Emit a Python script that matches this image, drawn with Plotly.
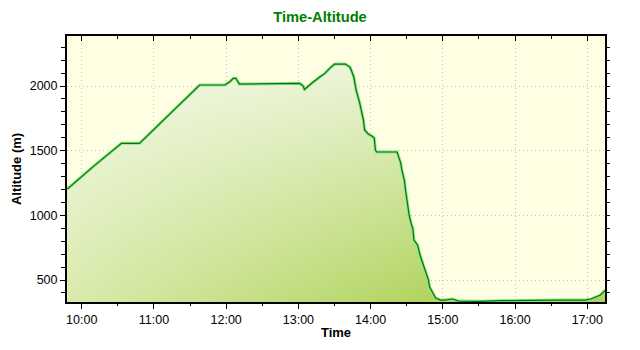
import plotly.graph_objects as go

# ---- data ----
TIME = ["09:48", "10:10", "10:33", "10:48", "11:38", "11:59", "12:03", "12:06", "12:08", "12:11",
        "13:01", "13:04", "13:05", "13:08", "13:11", "13:18", "13:22", "13:26", "13:30", "13:39",
        "13:43", "13:46", "13:48", "13:51", "13:54", "13:55", "13:58", "14:01", "14:03", "14:04",
        "14:05", "14:22", "14:23", "14:24", "14:25", "14:26", "14:28", "14:29", "14:31", "14:32",
        "14:34", "14:35", "14:36", "14:39", "14:41", "14:45", "14:48", "14:49", "14:52", "14:54",
        "14:58", "15:02", "15:08", "15:13", "15:31", "15:48", "16:37", "16:58", "17:03", "17:07",
        "17:11", "17:15"]
ALT = [1203, 1381, 1557, 1557, 2008, 2008, 2033, 2060, 2060, 2015,
       2021, 2000, 1974, 2000, 2021, 2072, 2098, 2137, 2170, 2170,
       2145, 2072, 1969, 1866, 1737, 1660, 1629, 1613, 1598, 1505,
       1490, 1490, 1466, 1428, 1404, 1350, 1273, 1196, 1080, 1002,
       925, 902, 809, 770, 693, 577, 500, 445, 391, 360,
       345, 345, 353, 337, 335, 340, 345, 345, 353, 368,
       384, 422]
X_TICK_LABELS = ["10:00", "11:00", "12:00", "13:00", "14:00", "15:00", "16:00", "17:00"]
Y_RANGE = [330, 2387]
X_RANGE_LABELS = ["09:47:47", "17:14:42"]


def to_hours(s):
    parts = [int(p) for p in s.split(":")]
    while len(parts) < 3:
        parts.append(0)
    return parts[0] + parts[1] / 60 + parts[2] / 3600


x = [to_hours(t) for t in TIME]
tickvals = [to_hours(t) for t in X_TICK_LABELS]
x_range = [to_hours(t) for t in X_RANGE_LABELS]

FONT = "Liberation Sans, Arial, sans-serif"
GRID_DASH = "1px,3px"

fig = go.Figure()
# base fill: horizontal gradient (light left -> dark right)
fig.add_trace(go.Scatter(
    x=x, y=ALT, mode="lines", line=dict(width=0), fill="tozeroy",
    fillgradient=dict(type="horizontal", start=x_range[0], stop=15.0,
                      colorscale=[[0, "#d9ebad"], [1, "#afd35c"]]),
    hoverinfo="skip", showlegend=False))
# white overlay fading downwards -> diagonal look
fig.add_trace(go.Scatter(
    x=x, y=ALT, mode="lines", line=dict(width=0), fill="tozeroy",
    fillgradient=dict(type="vertical", start=Y_RANGE[0], stop=2200,
                      colorscale=[[0, "rgba(255,255,255,0)"], [1, "rgba(255,255,255,0.75)"]]),
    hoverinfo="skip", showlegend=False))
# line: light halo + dark core
fig.add_trace(go.Scatter(x=x, y=ALT, mode="lines", line=dict(color="#8ee08e", width=3),
                         hoverinfo="skip", showlegend=False))
fig.add_trace(go.Scatter(x=x, y=ALT, mode="lines", line=dict(color="#007a00", width=1.2),
                         showlegend=False))
# dummy for mirrored tick axes
fig.add_trace(go.Scatter(x=[None], y=[None], xaxis="x2", yaxis="y2", showlegend=False,
                         hoverinfo="skip"))

fig.update_layout(
    width=640, height=350,
    margin=dict(l=67, r=35, t=36, b=48),
    paper_bgcolor="white",
    plot_bgcolor="#fefee3",
    title=dict(text="<b>Time-Altitude</b>", x=0.5, xref="container", xanchor="center",
               y=1 - 17 / 350, yref="container", yanchor="middle",
               font=dict(family=FONT, size=14.7, color="#008000")),
    xaxis=dict(
        range=x_range, tickmode="array", tickvals=tickvals, ticktext=X_TICK_LABELS,
        ticks="outside", ticklen=5, tickwidth=1, tickcolor="black",
        showline=True, linecolor="black", linewidth=2, mirror=True,
        showgrid=True, gridcolor="#c4c4c4", griddash=GRID_DASH, gridwidth=1,
        zeroline=False,
        minor=dict(tickmode="linear", tick0=0, dtick=0.5, ticks="outside", ticklen=2,
                   tickcolor="black", showgrid=False),
        tickfont=dict(family=FONT, size=12.5, color="black"),
        title=dict(text="<b>Time</b>", standoff=2, font=dict(family=FONT, size=13, color="black")),
    ),
    yaxis=dict(
        range=Y_RANGE, tickmode="linear", tick0=0, dtick=500,
        ticks="outside", ticklen=5, tickwidth=1, tickcolor="black",
        showline=True, linecolor="black", linewidth=2, mirror=True,
        showgrid=True, gridcolor="#c4c4c4", griddash=GRID_DASH, gridwidth=1,
        zeroline=False,
        minor=dict(tickmode="linear", tick0=0, dtick=100, ticks="outside", ticklen=4,
                   tickcolor="black", showgrid=False),
        tickfont=dict(family=FONT, size=12.5, color="black"),
        title=dict(text="<b>Altitude (m)</b>", standoff=5, font=dict(family=FONT, size=13, color="black")),
    ),
    xaxis2=dict(
        overlaying="x", side="top", anchor="y", range=x_range, tickmode="array", tickvals=tickvals,
        ticks="inside", ticklen=5, tickcolor="black", showticklabels=False,
        showgrid=False, showline=False, zeroline=False,
        minor=dict(tickmode="linear", tick0=0, dtick=0.5, ticks="inside", ticklen=3,
                   tickcolor="black", showgrid=False),
    ),
    yaxis2=dict(
        overlaying="y", side="right", anchor="x", range=Y_RANGE, tickmode="linear", tick0=0, dtick=100,
        ticks="outside", ticklen=4, tickcolor="black", showticklabels=False,
        showgrid=False, showline=False, zeroline=False,
    ),
)

fig.write_html("out.html")
